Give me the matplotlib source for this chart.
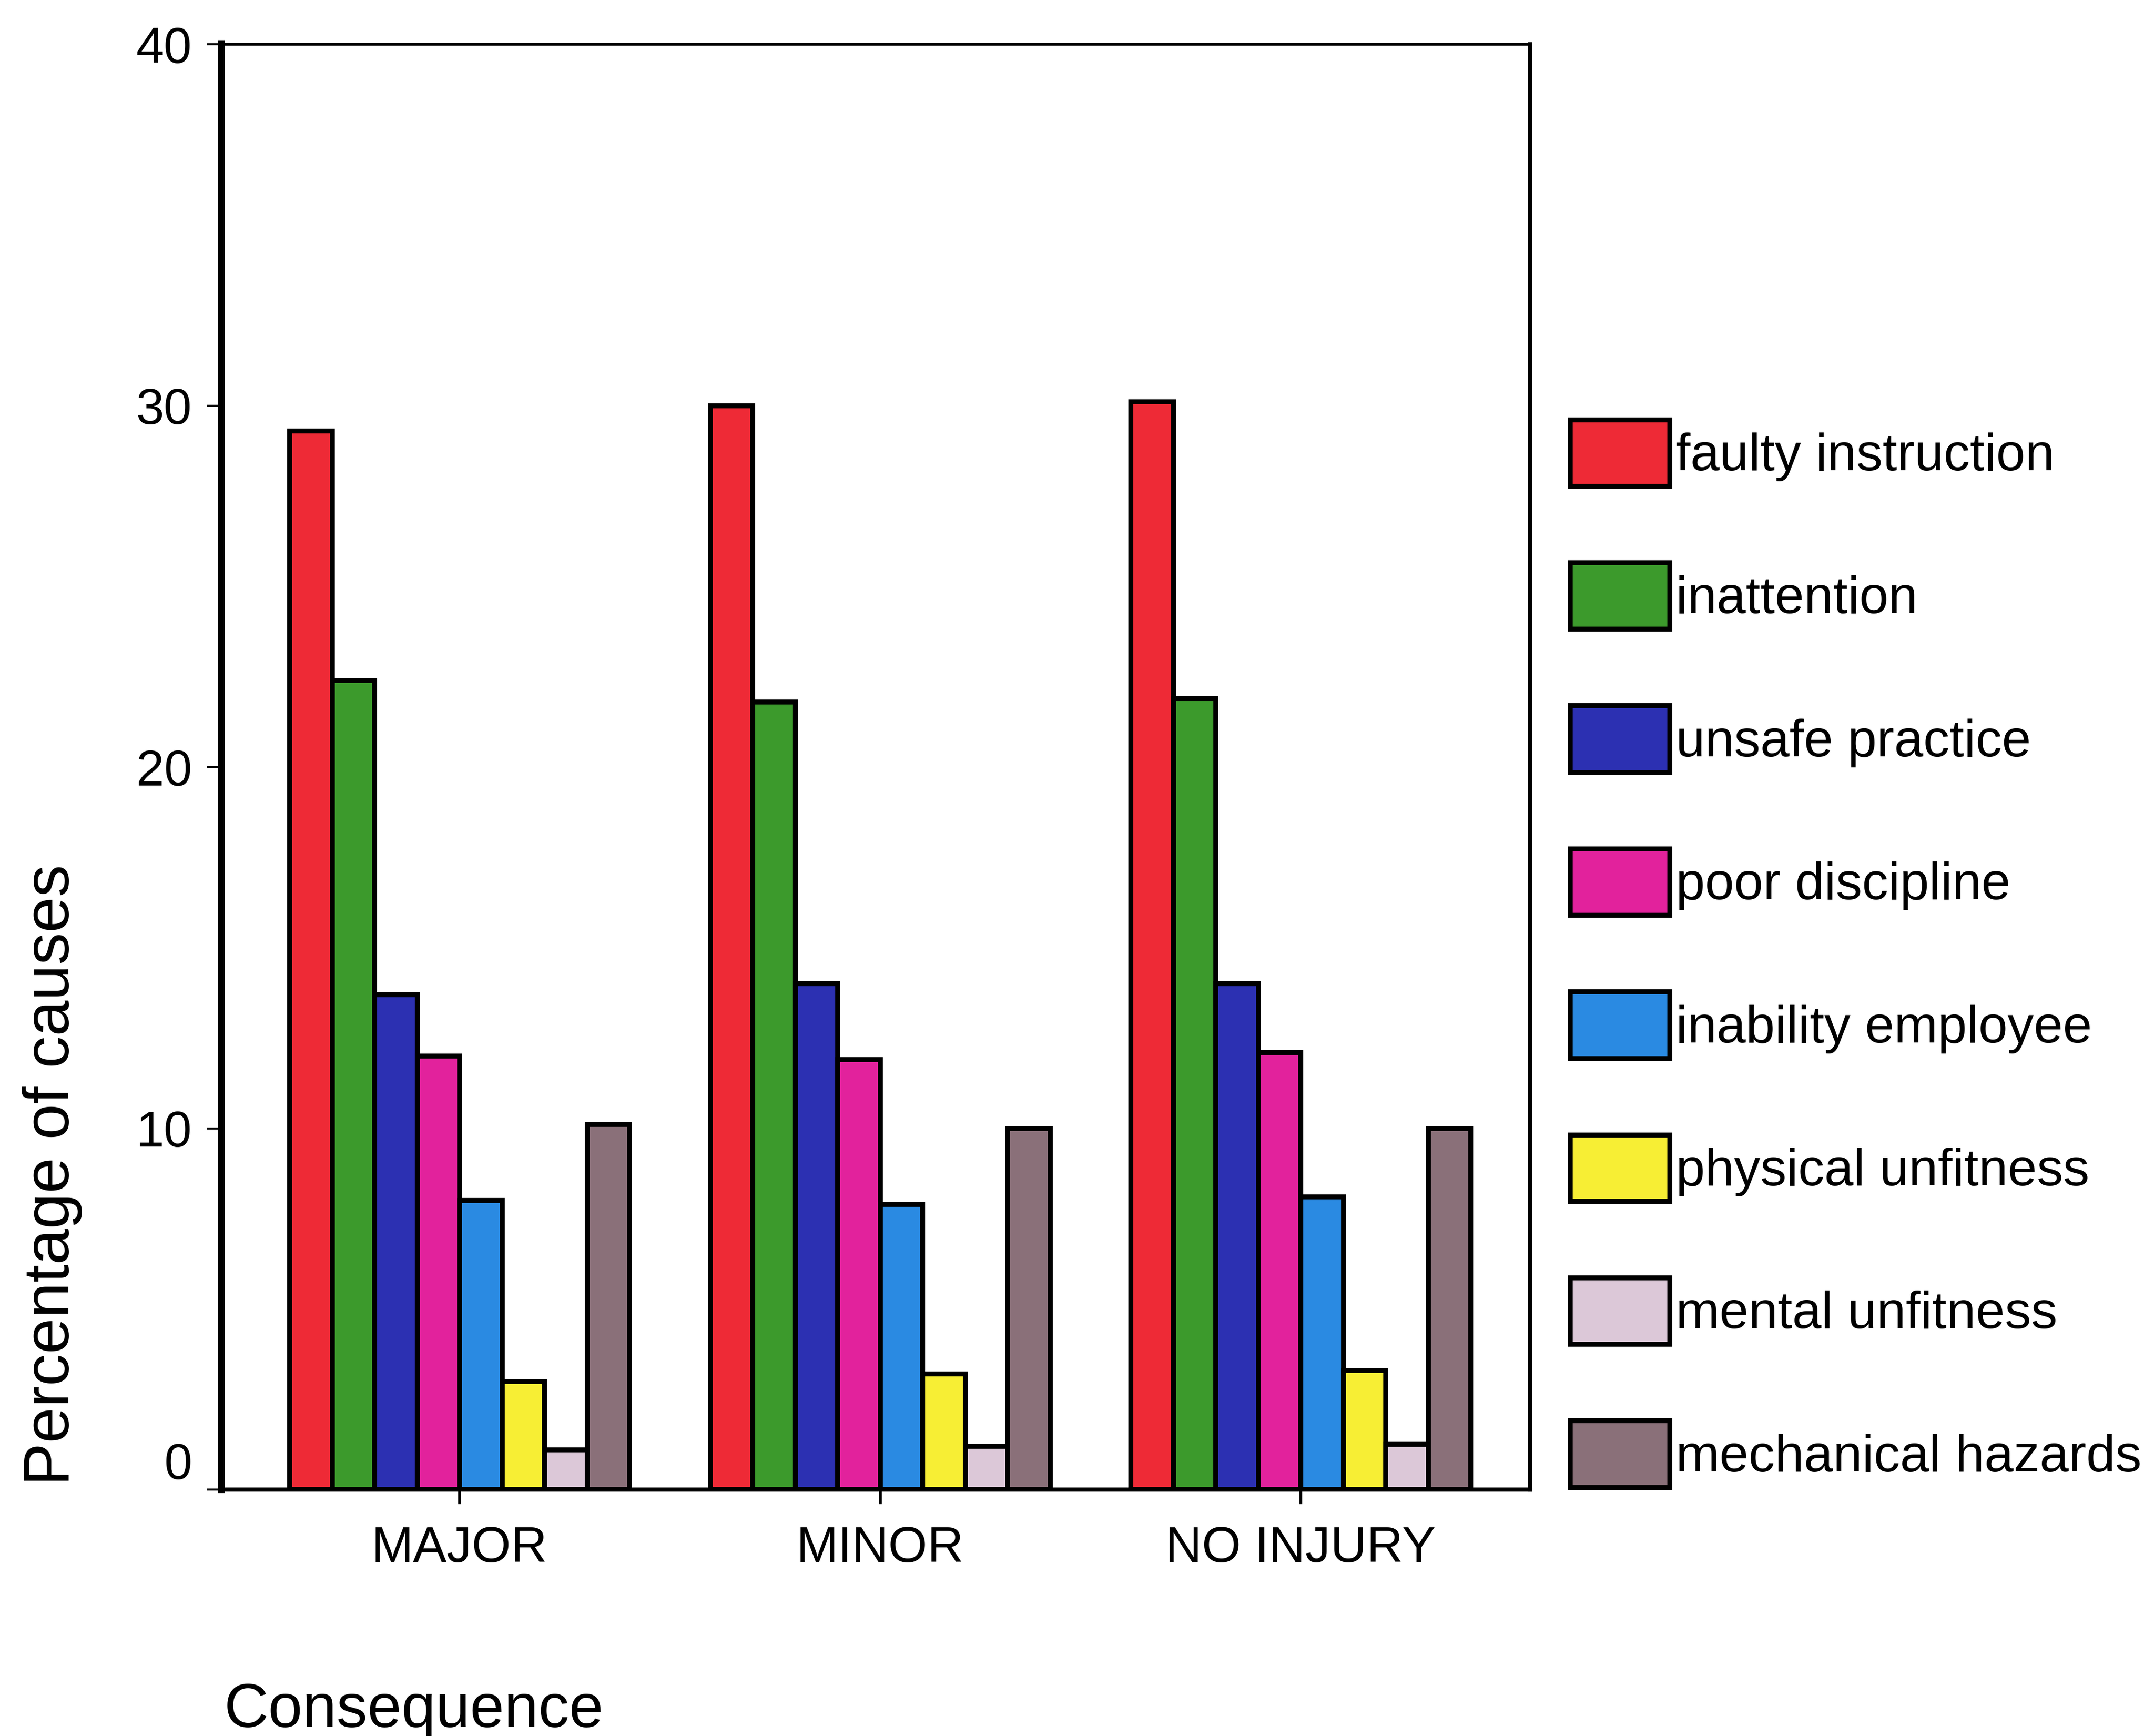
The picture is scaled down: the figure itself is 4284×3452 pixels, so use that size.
import numpy as np
import matplotlib
matplotlib.use("Agg")
import matplotlib.pyplot as plt

plt.rcParams['font.family'] = ['Liberation Sans', 'DejaVu Sans']

consequences = ['MAJOR', 'MINOR', 'NO INJURY']
causes = ['faulty instruction', 'inattention', 'unsafe practice', 'poor discipline',
          'inability employee', 'physical unfitness', 'mental unfitness', 'mechanical hazards']
# percentage of causes per consequence
faulty = [29.3, 30.0, 30.1]
inattention = [22.4, 21.8, 21.9]
unsafe = [13.7, 14.0, 14.0]
discipline = [12.0, 11.9, 12.1]
inability = [8.0, 7.9, 8.1]
physical = [3.0, 3.2, 3.3]
mental = [1.1, 1.2, 1.25]
mechanical = [10.1, 10.0, 10.0]
colors = ['#ee2a36', '#3c9a2c', '#2c30b2', '#e2229c', '#2a8ae2', '#f7ee34', '#dcc8d8', '#8a7079']

series = [faulty, inattention, unsafe, discipline, inability, physical, mental, mechanical]

fig = plt.figure(figsize=(42.84, 34.52), dpi=100)
ax = fig.add_axes([0.1027, 0.1419, 0.7103 - 0.1027, 0.9745 - 0.1419])

x = np.arange(len(consequences))
w = 0.101
for i, vals in enumerate(series):
    ax.bar(x + (i - 3.5) * w, vals, w, color=colors[i], edgecolor='black',
           linewidth=7, label=causes[i], zorder=2)

ax.set_xlim(-0.567, 2.545)
ax.set_ylim(0, 40)
ax.set_yticks([0, 10, 20, 30, 40])
ax.set_xticks(x)
ax.set_xticklabels(consequences)

ax.tick_params(axis='y', length=20, width=3, pad=22, labelsize=72)
ax.tick_params(axis='x', length=21, width=4, pad=30, labelsize=72)
ax.spines['left'].set_linewidth(10)
ax.spines['bottom'].set_linewidth(6)
ax.spines['right'].set_linewidth(6)
ax.spines['top'].set_linewidth(4)

ylabs = ax.get_yticklabels()
ylabs[0].set_va('bottom')

fig.text(0.0243, 0.3233, 'Percentage of causes', rotation=90, ha='center', va='center', fontsize=92)
fig.text(0.104, 0.0052, 'Consequence', ha='left', va='baseline', fontsize=88)

fig.legend(loc='center left', bbox_to_anchor=(0.729, 0.4507), frameon=False, fontsize=75,
           handlelength=1.9, handleheight=1.577, labelspacing=1.46, handletextpad=0.12,
           borderpad=0, borderaxespad=0)

fig.savefig('out.png', dpi=100, facecolor='white')
